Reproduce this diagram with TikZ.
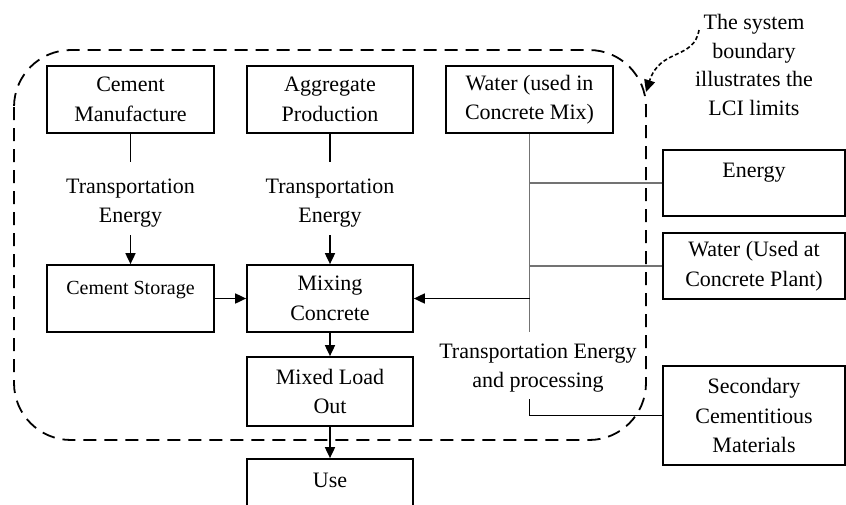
\documentclass[tikz,border=0pt]{standalone}
\usepackage{fontspec}
\setmainfont{Liberation Serif}
\usetikzlibrary{arrows.meta}

\begin{document}
\begin{tikzpicture}[x=1pt,y=-1pt,
  box/.style={draw, line width=1.7pt, inner sep=0pt, align=center,
              font=\fontsize{22}{29.5}\selectfont},
  lbl/.style={inner sep=0pt, align=center, font=\fontsize{22}{29.5}\selectfont},
  flow/.style={line width=1.7pt},
  arr/.style={line width=1.7pt, -{Triangle[length=11pt,width=10pt]}},
  feed/.style={line width=1.1pt, draw=black!55},
  limit/.style={line width=1.8pt, dash pattern=on 13pt off 8pt, rounded corners=57pt},
  pointer/.style={line width=1.6pt, dash pattern=on 4pt off 2.5pt,
                  -{Triangle[length=12pt,width=11pt]}}]

\useasboundingbox (0,0) rectangle (846,504);
\clip (0,0) rectangle (846,504);

% system boundary
\draw[limit] (14,50) rectangle (646,440);

% upstream processes
\node[box, minimum width=167pt, minimum height=67pt] (cm) at (130.5,99.5) {Cement\\Manufacture};
\node[box, minimum width=166pt, minimum height=67pt] (ap) at (330,99.5) {Aggregate\\Production};
\node[box, minimum width=167pt, minimum height=67pt] (wm) at (529.5,99.5) {Water (used in\\Concrete Mix)};

% transport labels
\node[lbl] (te1) at (130.5,203) {Transportation\\Energy};
\node[lbl] (te2) at (330,203) {Transportation\\Energy};
\coordinate (t1a) at (130.5,162);
\coordinate (t1b) at (130.5,235);
\coordinate (t2a) at (330,162);
\coordinate (t2b) at (330,235);

% plant processes
\node[box, minimum width=167pt, minimum height=67pt] (cs) at (130.5,298.5) {};
\node[lbl, font=\fontsize{20}{26}\selectfont] (csT) at (130.5,290) {Cement Storage};
\node[box, minimum width=166pt, minimum height=67pt] (mx) at (330,298.5) {Mixing\\Concrete};
\node[box, minimum width=166pt, minimum height=69pt] (ml) at (330,391.5) {Mixed Load\\Out};
\node[box, minimum width=166pt, minimum height=67pt] (use) at (330,492.5) {};
\node[lbl] (useT) at (330,480) {Use};

% external inputs
\node[box, minimum width=182pt, minimum height=66pt] (en) at (754,183) {};
\node[lbl] (enT) at (754,173) {Energy};
\node[box, minimum width=182pt, minimum height=66pt] (wp) at (754,266) {Water (Used at\\Concrete Plant)};
\node[box, minimum width=182pt, minimum height=99pt] (sc) at (754,415.5) {Secondary\\Cementitious\\Materials};

\node[lbl] (tp) at (538,368) {Transportation Energy\\and processing};

% annotation
\node[lbl, font=\fontsize{22}{28.5}\selectfont] (note) at (754,65)
  {The system\\boundary\\illustrates the\\LCI limits};
\coordinate (nstart) at (699,30);
\coordinate (ntip) at (646,92);
\draw[pointer] (nstart) .. controls (694,60) and (660,48) .. (ntip);

% connectors
\draw[flow] (cm.south) -- (t1a);
\draw[arr] (t1b) -- (cs.north);
\draw[flow] (ap.south) -- (t2a);
\draw[arr] (t2b) -- (mx.north);
\draw[arr] (cs.east |- mx.east) -- (mx.west);
\draw[arr] (mx.south) -- (ml.north);
\draw[arr] (ml.south) -- (use.north);

\coordinate (jb) at (529.5,332);
\draw[feed] (wm.south) -- (jb);
\draw[feed] (en.west) -- (en.west -| wm.south);
\draw[feed] (wp.west) -- (wp.west -| wm.south);
\draw[arr] (mx.east -| wm.south) -- (mx.east);
\coordinate (sj) at (529.5,399);
\draw[line width=1.2pt] (sc.west) -- (sc.west -| sj) -- (sj);

\end{tikzpicture}
\end{document}
